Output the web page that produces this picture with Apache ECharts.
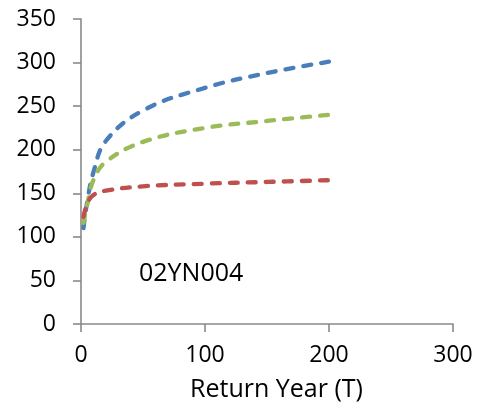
<!DOCTYPE html>
<html>
<head>
<meta charset="utf-8">
<style>
  html, body { margin: 0; padding: 0; background: #fff; }
  #chart { width: 486px; height: 416px; }
</style>
<script src="https://cdn.jsdelivr.net/npm/echarts@6/dist/echarts.min.js"></script>
</head>
<body>
<div id="chart"></div>
<script>
// Return periods (years) and estimated design values for station 02YN004
const returnYears = [2, 5, 10, 20, 50, 100, 150, 200];
const blueValues  = [110, 140, 174, 210, 245, 271, 288, 301];
const greenValues = [116, 137, 165, 186, 209, 225, 233, 240];
const redValues   = [123, 138, 148, 153, 158, 161, 163, 165];

const xTicks = { min: 0, max: 300, interval: 100 };
const yTicks = { min: 0, max: 350, interval: 50 };

const stationLabel = '02YN004';
const xTitle = 'Return Year (T)';

const FONT = '"Open Sans", "Liberation Sans", sans-serif';

function pairs(xs, ys) {
  return xs.map((x, i) => [x, ys[i]]);
}

function dashedSeries(values, color) {
  return {
    type: 'line',
    data: pairs(returnYears, values),
    smooth: 0.4,
    showSymbol: false,
    symbol: 'none',
    lineStyle: { color: color, width: 4.3, type: [8, 10], cap: 'round', join: 'round' },
    emphasis: { disabled: true }
  };
}

const axisLine = { show: true, onZero: false, lineStyle: { color: '#898989', width: 1.6 } };
const axisTick = { show: true, inside: false, length: 8, lineStyle: { color: '#898989', width: 1.6 } };

const chart = echarts.init(document.getElementById('chart'), null, { renderer: 'canvas' });
chart.setOption({
  animation: false,
  backgroundColor: '#fff',
  grid: { left: 81, right: 33, top: 19, bottom: 92, containLabel: false },
  xAxis: {
    type: 'value',
    min: xTicks.min, max: xTicks.max, interval: xTicks.interval,
    axisLine: axisLine,
    axisTick: axisTick,
    splitLine: { show: false },
    axisLabel: { color: '#000', fontFamily: FONT, fontSize: 23, margin: 20 },
    name: xTitle,
    nameLocation: 'middle',
    nameGap: 53,
    nameTextStyle: { color: '#000', fontFamily: FONT, fontSize: 25, padding: [0, 0, 0, 19] }
  },
  yAxis: {
    type: 'value',
    min: yTicks.min, max: yTicks.max, interval: yTicks.interval,
    axisLine: axisLine,
    axisTick: axisTick,
    splitLine: { show: false },
    axisLabel: { color: '#000', fontFamily: FONT, fontSize: 23, margin: 25 }
  },
  graphic: [{
    type: 'text',
    left: 139,
    top: 261,
    style: { text: stationLabel, fill: '#000', font: '25px ' + FONT }
  }],
  series: [
    dashedSeries(blueValues, '#4A7EBB'),
    dashedSeries(greenValues, '#9BBB59'),
    dashedSeries(redValues, '#C0504D')
  ]
});
</script>
</body>
</html>
